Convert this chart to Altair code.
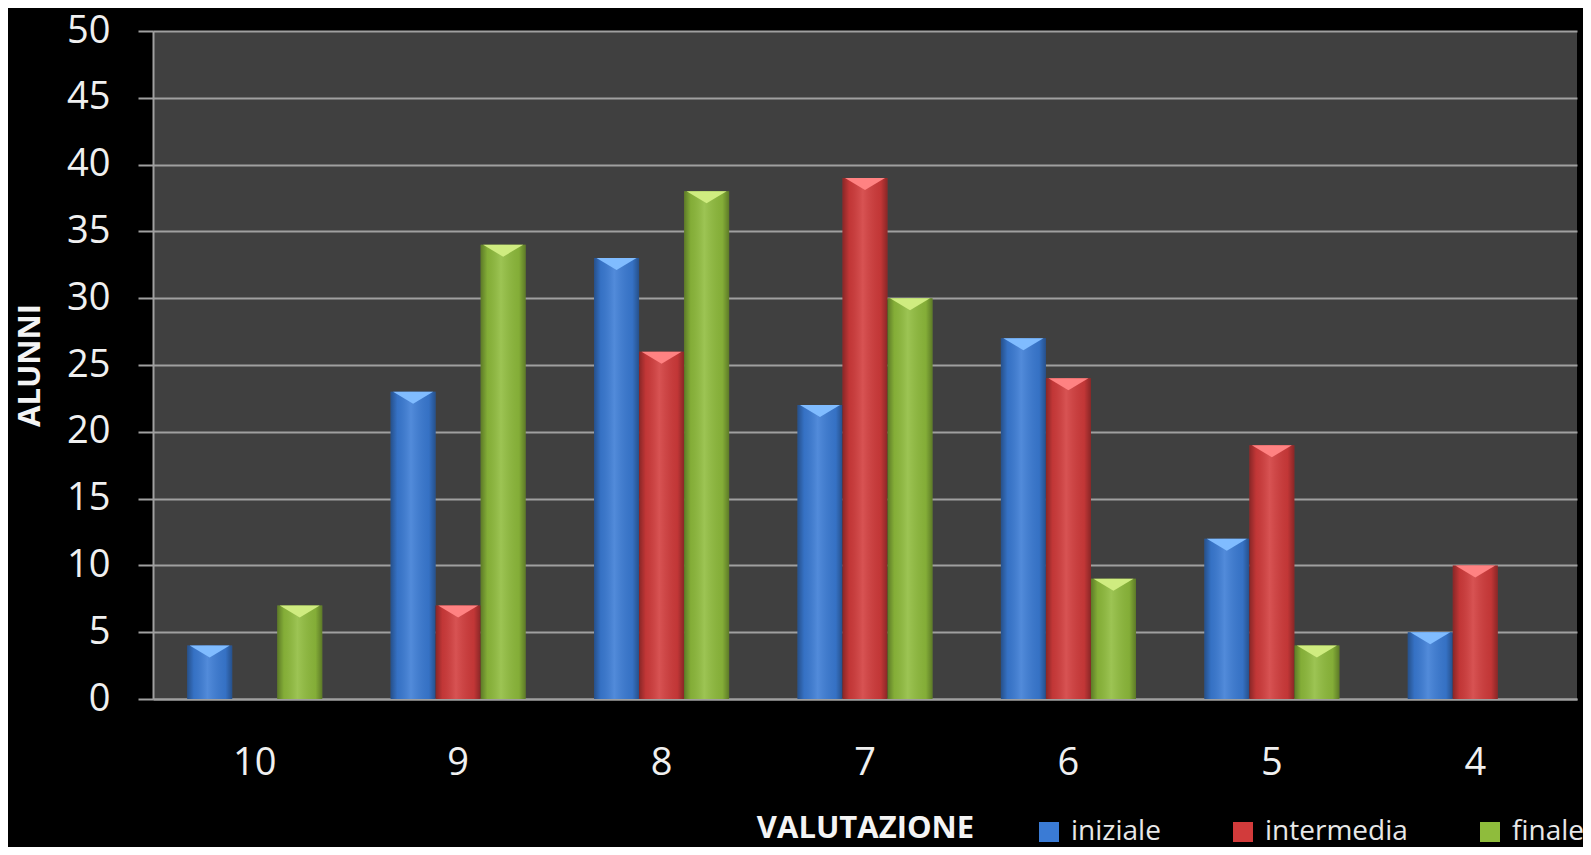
import altair as alt
import pandas as pd

categories = ["10", "9", "8", "7", "6", "5", "4"]
series = ["iniziale", "intermedia", "finale"]
iniziale = [4, 23, 33, 22, 27, 12, 5]
intermedia = [0, 7, 26, 39, 24, 19, 10]
finale = [7, 34, 38, 30, 9, 4, 0]

rows = []
for i, c in enumerate(categories):
    for s, vals in zip(series, [iniziale, intermedia, finale]):
        rows.append({"valutazione": c, "serie": s, "alunni": vals[i]})
df = pd.DataFrame(rows)

colors = ["#3a7bd5", "#d23b3b", "#8fbc3c"]
light = ["#80bcff", "#ff8282", "#cfec80"]
grid_col = "#a0a0a0"
FONT = "Open Sans"

x = alt.X(
    "valutazione:N",
    sort=categories,
    scale=alt.Scale(paddingInner=0.336, paddingOuter=0.168),
    axis=alt.Axis(
        title="VALUTAZIONE", titleFont=FONT, titleFontSize=31, titleFontWeight="bold",
        titleColor="#f4f4f4", titleX=712, titleY=129, titleBaseline="middle",
        titleAlign="center",
        labelFont=FONT, labelFontSize=38, labelColor="#f0f0f0", labelAngle=0,
        labelPadding=64, labelBaseline="middle",
        ticks=False, tickSize=0, domainColor=grid_col, domainWidth=2, grid=False,
    ),
)
xo = alt.XOffset("serie:N", sort=series, scale=alt.Scale(paddingInner=0, paddingOuter=0))
y = alt.Y(
    "alunni:Q",
    scale=alt.Scale(domain=[0, 50], nice=False),
    axis=alt.Axis(
        title="ALUNNI", titleFont=FONT, titleFontSize=31, titleFontWeight="bold",
        titleColor="#f4f4f4", titleX=-123, titleY=334, titleBaseline="middle",
        titleAlign="center", titleAngle=270,
        values=list(range(0, 51, 5)),
        labelFont=FONT, labelFontSize=38, labelColor="#f0f0f0", labelPadding=28,
        tickSize=15, tickColor=grid_col, tickWidth=2,
        domainColor=grid_col, domainWidth=2,
        grid=True, gridColor=grid_col, gridWidth=2,
    ),
)

base = alt.Chart(df)

bars = base.mark_bar().encode(
    x=x, xOffset=xo, y=y,
    color=alt.Color(
        "serie:N", sort=series,
        scale=alt.Scale(domain=series, range=colors),
        legend=alt.Legend(
            orient="none", legendX=882, legendY=787, direction="horizontal",
            title=None, labelFont=FONT, labelFontSize=28, labelColor="#e8e8e8",
            symbolType="square", symbolSize=400, symbolStrokeWidth=0,
            labelOffset=8, columnPadding=68, padding=0,
        ),
    ),
)

shade = base.mark_bar(
    color={
        "gradient": "linear", "x1": 0, "x2": 1, "y1": 0, "y2": 0,
        "stops": [
            {"offset": 0, "color": "rgba(0,0,0,0.35)"},
            {"offset": 0.15, "color": "rgba(0,0,0,0.08)"},
            {"offset": 0.45, "color": "rgba(255,255,255,0.12)"},
            {"offset": 0.85, "color": "rgba(0,0,0,0.08)"},
            {"offset": 1, "color": "rgba(0,0,0,0.35)"},
        ],
    }
).encode(x=x, xOffset=xo, y=y)

tri = base.transform_filter("datum.alunni > 0").mark_point(
    shape="M-1,0L1,0L0,0.6Z", filled=True, size=1600, opacity=1, strokeWidth=0
).encode(
    x=x, xOffset=xo, y=y,
    color=alt.Color("serie:N", scale=alt.Scale(domain=series, range=light), legend=None),
)

chart = (
    alt.layer(bars, shade, tri)
    .resolve_scale(color="independent")
    .properties(
        width=1424, height=668,
        autosize=alt.AutoSizeParams(type="none"),
        padding={"left": 145, "top": 23, "right": 6, "bottom": 148},
    )
    .configure(background="black", font=FONT)
    .configure_view(fill="#404040", stroke=None)
)

chart.save("out.html", embed_options={"renderer": "svg", "actions": False})
